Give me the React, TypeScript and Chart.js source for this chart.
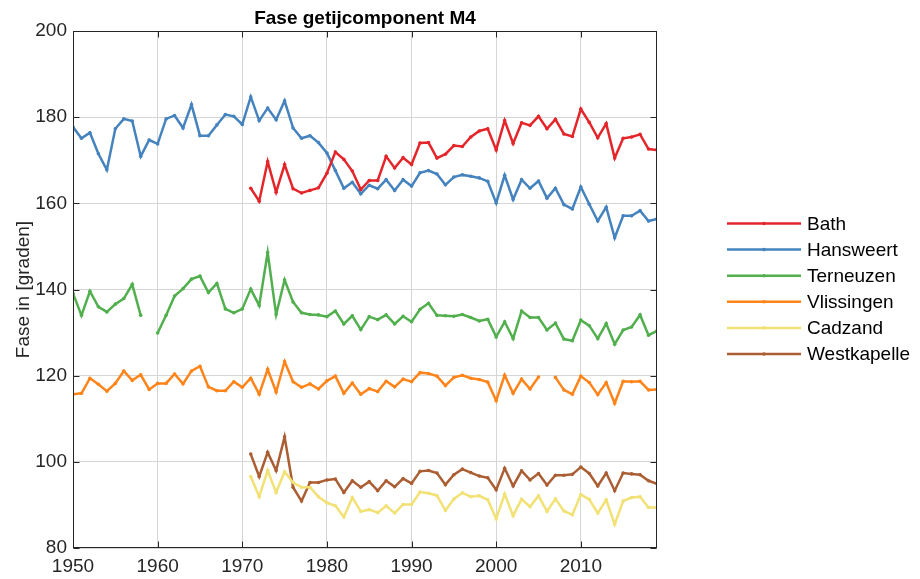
import React, { useEffect, useRef } from "react";
import { Chart, registerables } from "chart.js";

Chart.register(...registerables);

const years = [
  1950, 1951, 1952, 1953, 1954, 1955, 1956, 1957, 1958, 1959,
  1960, 1961, 1962, 1963, 1964, 1965, 1966, 1967, 1968, 1969,
  1970, 1971, 1972, 1973, 1974, 1975, 1976, 1977, 1978, 1979,
  1980, 1981, 1982, 1983, 1984, 1985, 1986, 1987, 1988, 1989,
  1990, 1991, 1992, 1993, 1994, 1995, 1996, 1997, 1998, 1999,
  2000, 2001, 2002, 2003, 2004, 2005, 2006, 2007, 2008, 2009,
  2010, 2011, 2012, 2013, 2014, 2015, 2016, 2017, 2018, 2019,
];

const xTickValues = [1950, 1960, 1970, 1980, 1990, 2000, 2010];
const yTickValues = [80, 100, 120, 140, 160, 180, 200];

const pre1971 = [
  null, null, null, null, null, null, null, null, null, null,
  null, null, null, null, null, null, null, null, null, null,
  null,
];

const bath = [
  ...pre1971,
  163.5, 160.5, 169.7, 162.6, 169.0, 163.4, 162.4, 163.0, 163.6,
  167.0, 171.9, 170.2, 167.5, 163.2, 165.3, 165.3, 170.9, 168.2, 170.6,
  169.0, 174.0, 174.1, 170.5, 171.4, 173.4, 173.2, 175.4, 176.8, 177.3,
  172.4, 179.2, 173.9, 178.7, 178.1, 180.2, 177.3, 179.5, 176.1, 175.5,
  181.9, 178.8, 175.2, 178.5, 170.5, 175.1, 175.4, 176.0, 172.6, 172.4,
];

const hansweert = [
  177.7, 175.1, 176.4, 171.5, 167.8, 177.3, 179.6, 179.1, 170.9, 174.7,
  173.8, 179.6, 180.4, 177.5, 182.9, 175.7, 175.7, 178.2, 180.6, 180.2,
  178.3, 184.7, 179.2, 182.1, 179.4, 183.8, 177.5, 175.1, 175.7, 174.1,
  171.7, 167.6, 163.5, 164.9, 162.2, 164.2, 163.4, 165.5, 163.0, 165.5,
  164.0, 167.1, 167.6, 166.8, 164.3, 166.1, 166.6, 166.3, 165.9, 165.1,
  160.1, 166.5, 160.9, 165.5, 163.5, 165.2, 161.2, 163.5, 159.7, 158.7,
  163.8, 159.8, 155.9, 159.1, 152.0, 157.1, 157.1, 158.3, 155.9, 156.4,
];

const terneuzen = [
  139.1, 134.0, 139.6, 136.0, 134.8, 136.6, 137.9, 141.2, 134.0, null,
  129.9, 134.0, 138.5, 140.2, 142.4, 143.1, 139.3, 141.4, 135.5, 134.6,
  135.5, 140.1, 136.3, 148.6, 134.2, 142.2, 137.1, 134.6, 134.2, 134.1,
  133.7, 135.0, 132.0, 133.9, 130.7, 133.7, 133.0, 134.1, 132.0, 133.8,
  132.5, 135.4, 136.8, 134.0, 133.9, 133.8, 134.2, 133.5, 132.7, 133.1,
  129.0, 132.5, 128.6, 135.0, 133.5, 133.5, 130.6, 132.2, 128.5, 128.1,
  132.9, 131.6, 128.6, 132.1, 127.3, 130.6, 131.3, 134.1, 129.4, 130.4,
];

const vlissingen = [
  115.7, 115.9, 119.4, 118.0, 116.4, 118.2, 121.1, 118.9, 120.2, 116.8,
  118.2, 118.2, 120.4, 118.1, 121.1, 122.2, 117.4, 116.5, 116.5, 118.6,
  117.3, 119.4, 115.7, 121.5, 116.2, 123.3, 118.6, 117.3, 118.1, 116.9,
  118.8, 119.9, 115.9, 118.3, 115.7, 117.0, 116.3, 118.7, 117.4, 119.2,
  118.6, 120.7, 120.5, 119.9, 117.7, 119.6, 120.1, 119.4, 119.1, 118.5,
  114.2, 120.1, 115.9, 119.2, 116.9, 119.7, null, 119.6, 116.7, 115.7,
  119.9, 118.4, 115.6, 118.4, 113.6, 118.7, 118.6, 118.7, 116.7, 116.8,
];

const cadzand = [
  ...pre1971,
  96.6, 91.9, 98.0, 92.9, 97.7, 95.2, 94.1, 94.1, 91.9,
  90.5, 89.8, 87.2, 91.7, 88.5, 88.9, 88.2, 89.8, 88.1, 90.1,
  90.1, 93.0, 92.7, 92.2, 88.7, 91.4, 92.8, 91.9, 92.1, 91.2,
  86.8, 92.5, 87.5, 91.3, 89.6, 92.1, 88.5, 91.4, 88.6, 87.7,
  92.4, 91.3, 88.1, 91.2, 85.5, 90.9, 91.7, 91.9, 89.4, 89.4,
];

const westkapelle = [
  ...pre1971,
  101.8, 96.6, 102.2, 98.0, 105.8, 94.1, 90.9, 95.2, 95.2,
  95.8, 96.0, 92.9, 95.6, 94.1, 95.4, 93.3, 95.6, 94.2, 96.1,
  95.0, 97.8, 98.0, 97.4, 94.7, 97.0, 98.3, 97.5, 96.7, 96.3,
  93.5, 98.5, 94.4, 97.9, 95.8, 97.3, 94.6, 96.9, 96.9, 97.1,
  98.8, 97.3, 94.4, 97.4, 93.3, 97.4, 97.2, 97.0, 95.6, 94.9,
];

const seriesNames = ["Bath", "Hansweert", "Terneuzen", "Vlissingen", "Cadzand", "Westkapelle"];
const seriesValues = [bath, hansweert, terneuzen, vlissingen, cadzand, westkapelle];
const seriesColors = ["#E4262B", "#4583BE", "#52AF4E", "#FF8419", "#F2E175", "#AB5E33"];

const titleText = "Fase getijcomponent M4";
const yTitleText = "Fase in [graden]";

const FONT = "'Liberation Sans', Arial, Helvetica, sans-serif";
const AXIS_COLOR = "#262626";

const decorPlugin = {
  id: "decor",
  afterDraw(chart: any) {
    const ctx = chart.ctx;
    const { left, right, top, bottom } = chart.chartArea;
    const L = Math.round(left) + 0.5;
    const R = Math.round(right) - 0.5;
    const T = Math.round(top) + 0.5;
    const B = Math.round(bottom) - 0.5;
    ctx.save();
    ctx.strokeStyle = AXIS_COLOR;
    ctx.lineWidth = 1;
    const xs = chart.scales.x;
    const ys = chart.scales.y;
    ctx.beginPath();
    xs.ticks.forEach((t: any) => {
      const px = Math.round(xs.getPixelForValue(t.value)) + 0.5;
      ctx.moveTo(px, B);
      ctx.lineTo(px, B - 6);
      ctx.moveTo(px, T);
      ctx.lineTo(px, T + 6);
    });
    ys.ticks.forEach((t: any) => {
      const py = Math.round(ys.getPixelForValue(t.value)) + 0.5;
      ctx.moveTo(L, py);
      ctx.lineTo(L + 6, py);
      ctx.moveTo(R, py);
      ctx.lineTo(R - 6, py);
    });
    ctx.stroke();
    ctx.strokeRect(L, T, R - L, B - T);

    // title
    ctx.fillStyle = "#000";
    ctx.font = `bold 19px ${FONT}`;
    ctx.textAlign = "center";
    ctx.textBaseline = "middle";
    ctx.fillText(titleText, (left + right) / 2, 18.5);

    // y title
    ctx.save();
    ctx.translate(24, (top + bottom) / 2);
    ctx.rotate(-Math.PI / 2);
    ctx.font = `19px ${FONT}`;
    ctx.fillStyle = AXIS_COLOR;
    ctx.fillText(yTitleText, 0, 0);
    ctx.restore();

    // legend
    chart.data.datasets.forEach((ds: any, i: number) => {
      const y = 223.5 + i * 26.1;
      ctx.strokeStyle = ds.borderColor;
      ctx.lineWidth = 2.5;
      ctx.beginPath();
      ctx.moveTo(727, y);
      ctx.lineTo(801, y);
      ctx.stroke();
      ctx.fillStyle = ds.borderColor;
      ctx.beginPath();
      ctx.arc(764, y, 1.8, 0, Math.PI * 2);
      ctx.fill();
      ctx.fillStyle = "#000";
      ctx.font = `19px ${FONT}`;
      ctx.textAlign = "left";
      ctx.textBaseline = "middle";
      ctx.fillText(ds.label, 807, y + 1);
    });
    ctx.restore();
  },
};

export default function App() {
  const canvasRef = useRef<HTMLCanvasElement | null>(null);

  useEffect(() => {
    if (!canvasRef.current) return;
    const datasets = seriesNames.map((name, i) => ({
      label: name,
      data: years.map((yr, j) => ({ x: yr, y: seriesValues[i][j] })),
      borderColor: seriesColors[i],
      backgroundColor: seriesColors[i],
      pointBackgroundColor: seriesColors[i],
      borderWidth: 2.5,
      pointRadius: 1.8,
      pointBorderWidth: 0,
      spanGaps: false,
      tension: 0,
    }));
    const chart = new Chart(canvasRef.current, {
      type: "line",
      data: { datasets },
      options: {
        animation: false,
        responsive: false,
        devicePixelRatio: 1,
        parsing: true,
        layout: { padding: { left: 0, top: 31, right: 263, bottom: 0 } },
        plugins: {
          legend: { display: false },
          title: { display: false },
          tooltip: { enabled: false },
        },
        scales: {
          x: {
            type: "linear",
            min: 1950,
            max: 2019,
            afterBuildTicks: (s: any) => {
              s.ticks = xTickValues.map((v) => ({ value: v }));
            },
            afterFit: (s: any) => {
              s.height = 31;
            },
            grid: { color: "#d6d6d6", lineWidth: 1, drawTicks: false },
            border: { display: false },
            ticks: {
              padding: 7,
              maxRotation: 0,
              autoSkip: false,
              color: AXIS_COLOR,
              font: { family: FONT, size: 19 },
              callback: (v: any) => String(v),
            },
          },
          y: {
            type: "linear",
            min: 80,
            max: 200,
            afterBuildTicks: (s: any) => {
              s.ticks = yTickValues.map((v) => ({ value: v }));
            },
            afterFit: (s: any) => {
              s.width = 73;
            },
            grid: { color: "#d6d6d6", lineWidth: 1, drawTicks: false },
            border: { display: false },
            ticks: {
              padding: 6,
              color: AXIS_COLOR,
              font: { family: FONT, size: 19 },
              callback: (v: any) => String(v),
            },
          },
        },
      },
      plugins: [decorPlugin],
    });
    return () => chart.destroy();
  }, []);

  return (
    <div style={{ position: "absolute", left: 0, top: 0, width: 920, height: 579, background: "#fff" }}>
      <canvas ref={canvasRef} width={920} height={579} style={{ display: "block" }} />
    </div>
  );
}
